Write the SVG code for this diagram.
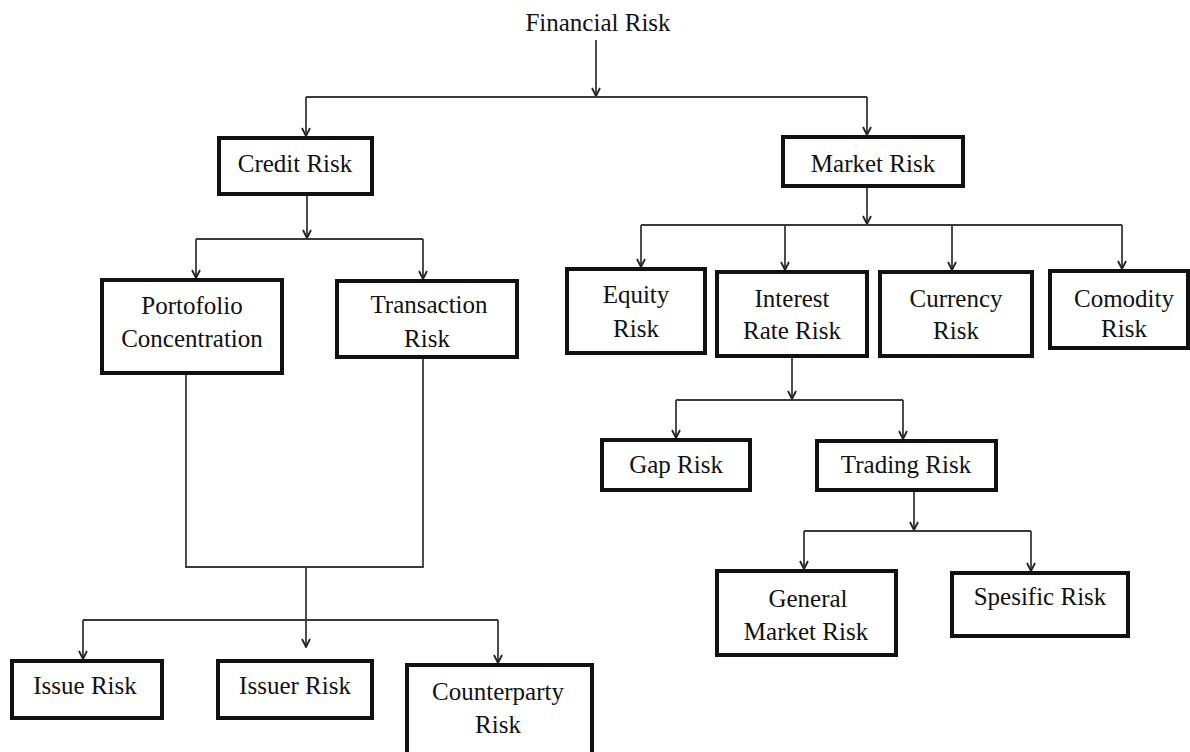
<svg xmlns="http://www.w3.org/2000/svg" width="1190" height="752" viewBox="0 0 1190 752">
  <style>
    .box { fill: #ffffff; stroke: #111111; stroke-width: 4; }
    .lbl { font-family: "Liberation Serif", "Times New Roman", serif; font-size: 25px; fill: #111111; text-anchor: middle; }
    .wire { fill: none; stroke: #3a3a3a; stroke-width: 1.8; }
    .arr { marker-end: url(#head); }
  </style>
  <defs>
    <marker id="head" viewBox="0 0 10 10" refX="9" refY="5" markerWidth="10" markerHeight="10" markerUnits="userSpaceOnUse" orient="auto">
      <path d="M1,1 L9,5 L1,9" fill="none" stroke="#222222" stroke-width="1.8"/>
    </marker>
  </defs>
  <rect width="1190" height="752" fill="#ffffff"/>

  <!-- connectors -->
  <g id="connectors">
    <path class="wire arr" d="M596,40 V96"/>
    <path class="wire" d="M306,97 H867"/>
    <path class="wire arr" d="M306,97 V136"/>
    <path class="wire arr" d="M867,97 V135"/>

    <path class="wire arr" d="M307,194 V238"/>
    <path class="wire" d="M196,239 H423"/>
    <path class="wire arr" d="M196,239 V278"/>
    <path class="wire arr" d="M423,239 V279"/>

    <path class="wire" d="M186,373 V567 H423 V357"/>
    <path class="wire arr" d="M306,567 V647"/>
    <path class="wire" d="M83,620 H498"/>
    <path class="wire arr" d="M83,620 V659"/>
    <path class="wire arr" d="M498,620 V663"/>

    <path class="wire arr" d="M867,186 V224"/>
    <path class="wire" d="M641,225 H1122"/>
    <path class="wire arr" d="M641,225 V267"/>
    <path class="wire arr" d="M785,225 V270"/>
    <path class="wire arr" d="M952,225 V270"/>
    <path class="wire arr" d="M1122,225 V269"/>

    <path class="wire arr" d="M792,356 V399"/>
    <path class="wire" d="M676,400 H903"/>
    <path class="wire arr" d="M676,400 V438"/>
    <path class="wire arr" d="M903,400 V439"/>

    <path class="wire arr" d="M914,490 V530"/>
    <path class="wire" d="M804,531 H1031"/>
    <path class="wire arr" d="M804,531 V569"/>
    <path class="wire arr" d="M1031,531 V571"/>
  </g>

  <!-- nodes -->
  <g id="financial-risk">
    <text class="lbl" x="598" y="31">Financial Risk</text>
  </g>
  <g id="credit-risk">
    <rect class="box" x="219" y="138" width="153" height="56"/>
    <text class="lbl" x="295" y="172">Credit Risk</text>
  </g>
  <g id="market-risk">
    <rect class="box" x="783" y="137" width="180" height="49"/>
    <text class="lbl" x="873" y="172">Market Risk</text>
  </g>
  <g id="portofolio-concentration">
    <rect class="box" x="102" y="280" width="180" height="93"/>
    <text class="lbl" x="192" y="314">Portofolio</text>
    <text class="lbl" x="192" y="347">Concentration</text>
  </g>
  <g id="transaction-risk">
    <rect class="box" x="337" y="281" width="180" height="76"/>
    <text class="lbl" x="429" y="313">Transaction</text>
    <text class="lbl" x="427" y="347">Risk</text>
  </g>
  <g id="equity-risk">
    <rect class="box" x="567" y="269" width="138" height="84"/>
    <text class="lbl" x="636" y="303">Equity</text>
    <text class="lbl" x="636" y="337">Risk</text>
  </g>
  <g id="interest-rate-risk">
    <rect class="box" x="717" y="272" width="150" height="84"/>
    <text class="lbl" x="792" y="307">Interest</text>
    <text class="lbl" x="792" y="339">Rate Risk</text>
  </g>
  <g id="currency-risk">
    <rect class="box" x="880" y="272" width="152" height="84"/>
    <text class="lbl" x="956" y="307">Currency</text>
    <text class="lbl" x="956" y="339">Risk</text>
  </g>
  <g id="comodity-risk">
    <rect class="box" x="1050" y="271" width="138" height="77"/>
    <text class="lbl" x="1124" y="307">Comodity</text>
    <text class="lbl" x="1124" y="337">Risk</text>
  </g>
  <g id="gap-risk">
    <rect class="box" x="602" y="440" width="148" height="50"/>
    <text class="lbl" x="676" y="473">Gap Risk</text>
  </g>
  <g id="trading-risk">
    <rect class="box" x="817" y="441" width="179" height="49"/>
    <text class="lbl" x="906" y="473">Trading Risk</text>
  </g>
  <g id="general-market-risk">
    <rect class="box" x="717" y="571" width="179" height="84"/>
    <text class="lbl" x="808" y="607">General</text>
    <text class="lbl" x="806" y="640">Market Risk</text>
  </g>
  <g id="spesific-risk">
    <rect class="box" x="952" y="573" width="176" height="63"/>
    <text class="lbl" x="1040" y="605">Spesific Risk</text>
  </g>
  <g id="issue-risk">
    <rect class="box" x="12" y="661" width="150" height="57"/>
    <text class="lbl" x="85" y="694">Issue Risk</text>
  </g>
  <g id="issuer-risk">
    <rect class="box" x="218" y="661" width="154" height="57"/>
    <text class="lbl" x="295" y="694">Issuer Risk</text>
  </g>
  <g id="counterparty-risk">
    <rect class="box" x="407" y="665" width="185" height="100"/>
    <text class="lbl" x="498" y="700">Counterparty</text>
    <text class="lbl" x="498" y="733">Risk</text>
  </g>
</svg>
